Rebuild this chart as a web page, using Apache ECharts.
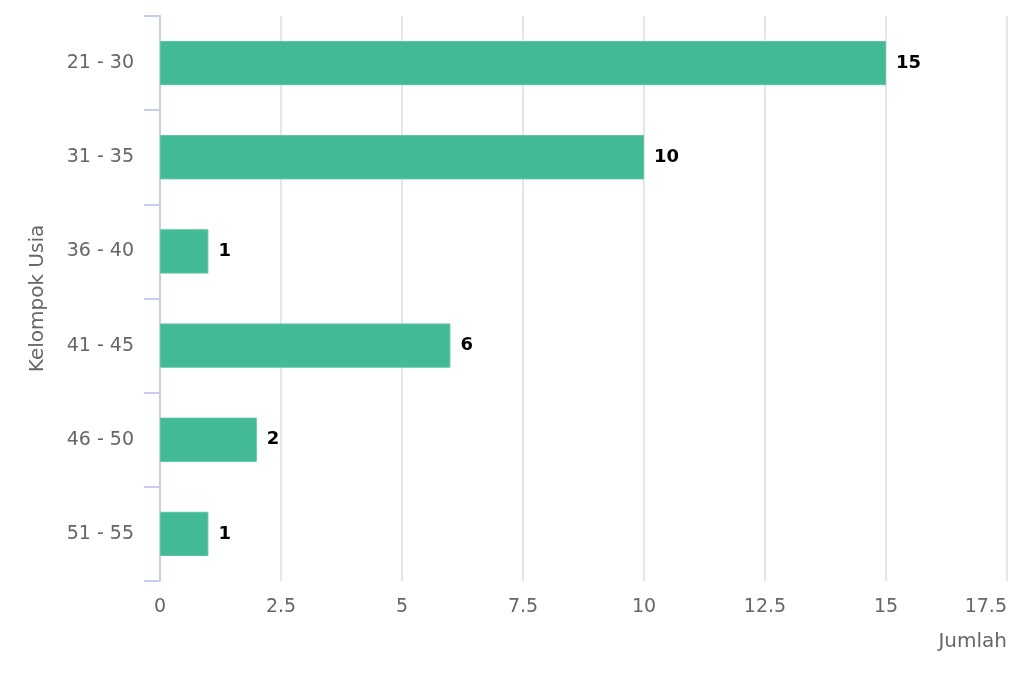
<!DOCTYPE html>
<html><head><meta charset="utf-8">
<script src="https://cdn.jsdelivr.net/npm/echarts@6/dist/echarts.min.js"></script>
<style>html,body{margin:0;padding:0;background:#fff}#c{width:1024px;height:683px}</style>
</head><body><div id="c"></div>
<script>
const categories = ['21 - 30', '31 - 35', '36 - 40', '41 - 45', '46 - 50', '51 - 55'];
const values = [15, 10, 1, 6, 2, 1];
const xTicks = { min: 0, max: 17.5, interval: 2.5 };
const xName = 'Jumlah';
const yName = 'Kelompok Usia';

const font = 'DejaVu Sans';
const chart = echarts.init(document.getElementById('c'), null, { renderer: 'canvas' });
chart.setOption({
  animation: false,
  grid: { left: 160, right: 17, top: 16, bottom: 102, containLabel: false },
  xAxis: {
    type: 'value', min: xTicks.min, max: xTicks.max, interval: xTicks.interval,
    name: xName, nameLocation: 'end', nameGap: 0,
    nameTextStyle: { fontFamily: font, fontSize: 20, color: '#666', align: 'right', verticalAlign: 'top', padding: [51, 0, 0, 0] },
    axisLine: { show: false }, axisTick: { show: false },
    axisLabel: { fontFamily: font, fontSize: 19, color: '#666', margin: 17, alignMaxLabel: 'right' },
    splitLine: { lineStyle: { color: '#e6e6e6', width: 2 } }
  },
  yAxis: {
    type: 'category', data: categories, inverse: true,
    name: yName, nameLocation: 'middle', nameGap: 112,
    nameTextStyle: { fontFamily: font, fontSize: 20, color: '#666' },
    axisLine: { show: true, lineStyle: { color: '#c5cfe8', width: 2 } },
    axisTick: { show: true, length: 16, lineStyle: { color: '#c5cfe8', width: 2 } },
    axisLabel: { fontFamily: font, fontSize: 19, color: '#666', margin: 26 },
    splitLine: { show: false }
  },
  series: [{
    type: 'bar', data: values, barWidth: '47%',
    itemStyle: { color: '#43ba96', borderColor: '#5cc4a4', borderWidth: 1 },
    label: { show: true, position: 'right', distance: 10, fontFamily: font, fontSize: 18, fontWeight: 'bold', color: '#000' }
  }]
});
</script></body></html>
